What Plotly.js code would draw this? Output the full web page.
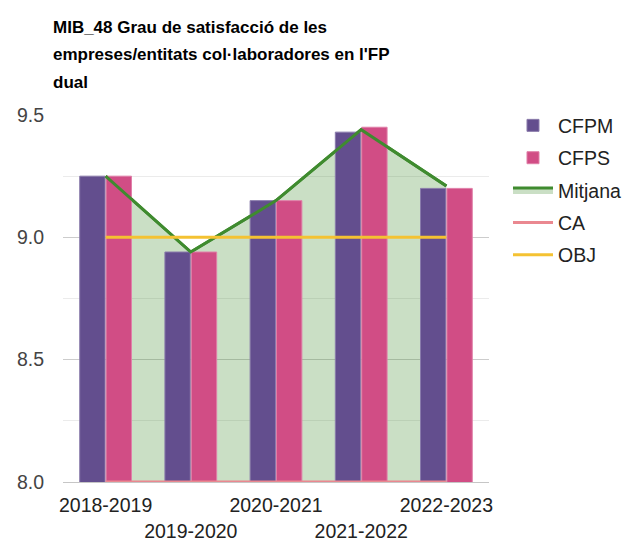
<!DOCTYPE html>
<html><head><meta charset="utf-8">
<script src="https://cdn.plot.ly/plotly-3.0.1.min.js"></script>
<style>html,body{margin:0;padding:0;background:#fff;}#chart{width:627px;height:542px;}</style>
</head><body><div id="chart"></div>
<script>
const categories = ['2018-2019', '2019-2020', '2020-2021', '2021-2022', '2022-2023'];
const cfpm = [9.25, 8.94, 9.15, 9.43, 9.20];
const cfps = [9.25, 8.94, 9.15, 9.45, 9.20];
const mitjana = [9.25, 8.94, 9.15, 9.44, 9.21];
const ca = [8.0, 8.0, 8.0, 8.0, 8.0];
const obj = [9.0, 9.0, 9.0, 9.0, 9.0];
const seriesNames = ['CFPM', 'CFPS', 'Mitjana', 'CA', 'OBJ'];
const titleLines = ['MIB_48 Grau de satisfacció de les', "empreses/entitats col·laboradores en l'FP", 'dual'];
const yTicks = [8.0, 8.5, 9.0, 9.5];

const FONT = 'Liberation Sans, Arial, sans-serif';
const C_PURPLE = '#634e8e', C_PINK = '#d14d85', C_GREEN = '#3f8b2f', C_CA = '#ea8890', C_OBJ = '#f4c232';

const tickText = categories.map((c, i) => (i % 2 ? '<br>' + c : c));

const traces = [
  { // area behind bars (main subplot)
    type: 'scatter', mode: 'lines', x: categories, y: mitjana, name: seriesNames[2],
    xaxis: 'x', yaxis: 'y', fill: 'tozeroy', fillcolor: 'rgba(63,139,47,0.28)',
    line: { color: C_GREEN, width: 3 }, legendrank: 3, legendgroup: 'g3', hoverinfo: 'skip'
  },
  {
    type: 'bar', x: categories, y: cfpm, name: seriesNames[0], xaxis: 'x2', yaxis: 'y',
    marker: { color: C_PURPLE, line: { color: '#8a7bab', width: 1 } }, legendrank: 1, legendgroup: 'g1'
  },
  {
    type: 'bar', x: categories, y: cfps, name: seriesNames[1], xaxis: 'x2', yaxis: 'y',
    marker: { color: C_PINK, line: { color: '#e07fa8', width: 1 } }, legendrank: 2, legendgroup: 'g2'
  },
  {
    type: 'scatter', mode: 'lines', x: categories, y: mitjana, name: seriesNames[2], xaxis: 'x2', yaxis: 'y',
    line: { color: C_GREEN, width: 3 }, showlegend: false, legendgroup: 'g3'
  },
  {
    type: 'scatter', mode: 'lines', x: categories, y: ca, name: seriesNames[3], xaxis: 'x2', yaxis: 'y',
    line: { color: C_CA, width: 3 }, legendrank: 4, legendgroup: 'g4', cliponaxis: false
  },
  {
    type: 'scatter', mode: 'lines', x: categories, y: obj, name: seriesNames[4], xaxis: 'x2', yaxis: 'y',
    line: { color: C_OBJ, width: 3 }, legendrank: 5, legendgroup: 'g5'
  }
];

const layout = {
  width: 627, height: 542,
  margin: { l: 63, r: 138, t: 115, b: 60, pad: 0, autoexpand: false },
  paper_bgcolor: '#fff', plot_bgcolor: '#fff',
  font: { family: FONT, size: 19.5, color: '#222' },
  title: {
    text: titleLines.map(l => '<span style="font-size:17px">' + l + '</span>').join('<br>'),
    font: { family: FONT, size: 21, color: '#000', weight: 'bold' },
    xref: 'container', x: 53 / 627, xanchor: 'left',
    yref: 'container', y: 1 - 33 / 542, yanchor: 'top', pad: { t: 0, b: 0, l: 0, r: 0 }
  },
  barmode: 'group', bargap: 0.38, bargroupgap: 0.04,
  showlegend: true,
  legend: {
    x: 1.0446, xanchor: 'left', y: 1.024, yanchor: 'top',
    font: { family: FONT, size: 19.5, color: '#222' },
    tracegroupgap: 4, itemwidth: 40, bgcolor: 'rgba(0,0,0,0)'
  },
  xaxis: {
    type: 'category', categoryarray: categories, range: [-0.5, 4.5],
    tickvals: categories, ticktext: tickText, tickangle: 0,
    showgrid: false, showline: true, linecolor: '#c6c6c6', linewidth: 1,
    ticks: '', ticklabelstandoff: 6,
    tickfont: { family: FONT, size: 19.5, color: '#222' }, fixedrange: true
  },
  xaxis2: {
    type: 'category', categoryarray: categories, range: [-0.5, 4.5],
    overlaying: 'x', anchor: 'y', visible: false, showgrid: false, fixedrange: true
  },
  yaxis: {
    range: [8, 9.5], tickvals: yTicks, tickformat: '.1f',
    showgrid: true, gridcolor: '#cccccc', gridwidth: 1, zeroline: false,
    minor: { dtick: 0.25, tick0: 8, showgrid: true, gridcolor: '#ebebeb', gridwidth: 1 },
    ticks: '', ticklabelstandoff: 18,
    tickfont: { family: FONT, size: 19.5, color: '#444' }, fixedrange: true
  }
};

Plotly.newPlot('chart', traces, layout, { displayModeBar: false, staticPlot: true });
</script>
</body></html>
